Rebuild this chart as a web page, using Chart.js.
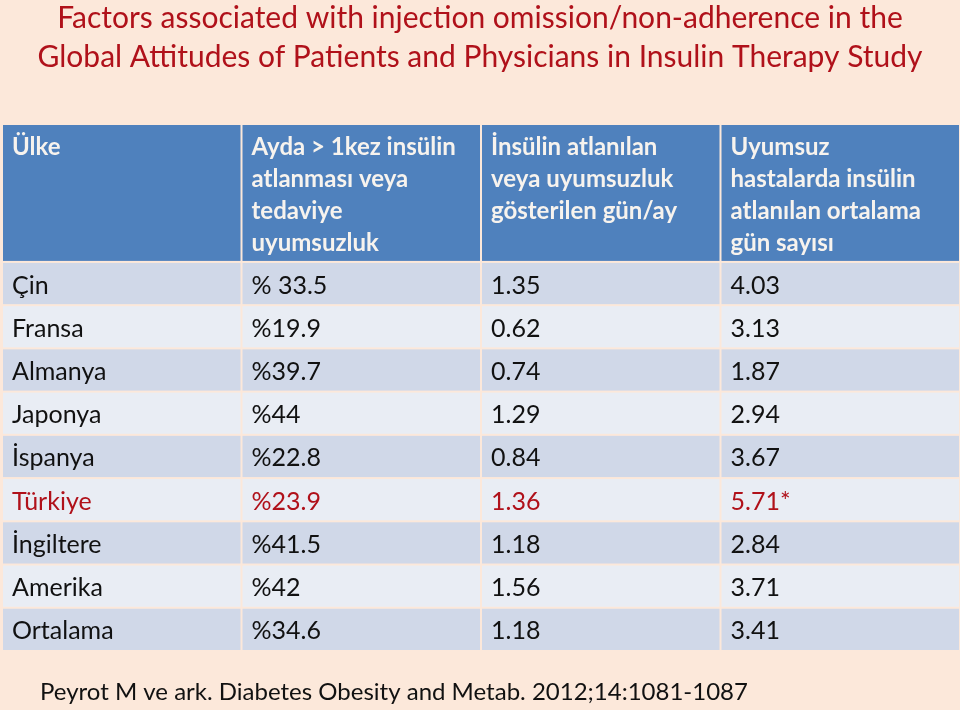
<!DOCTYPE html>
<html>
<head>
<meta charset="utf-8">
<title>Injection omission table</title>
<script src="https://cdn.jsdelivr.net/npm/chart.js@4.4.1/dist/chart.umd.min.js"></script>
<style>
    html, body { margin: 0; padding: 0; background: #fce8da; }
    #wrap { width: 960px; height: 710px; position: relative; }
</style>
</head>
<body>
<div id="wrap"><canvas id="omissionTable"></canvas></div>
<script>
// --- data ---
const titleLines = [
    'Factors associated with injection omission/non-adherence in the',
    'Global Attitudes of Patients and Physicians in Insulin Therapy Study'
];
const headers = [
    ['Ülke'],
    ['Ayda > 1kez insülin', 'atlanması veya', 'tedaviye', 'uyumsuzluk'],
    ['İnsülin atlanılan', 'veya uyumsuzluk', 'gösterilen gün/ay'],
    ['Uyumsuz', 'hastalarda insülin', 'atlanılan ortalama', 'gün sayısı']
];
const countries = ['Çin', 'Fransa', 'Almanya', 'Japonya', 'İspanya', 'Türkiye', 'İngiltere', 'Amerika', 'Ortalama'];
const omissionRate = ['% 33.5', '%19.9', '%39.7', '%44', '%22.8', '%23.9', '%41.5', '%42', '%34.6'];
const omissionDaysPerMonth = [1.35, 0.62, 0.74, 1.29, 0.84, 1.36, 1.18, 1.56, 1.18];
const avgMissedDays = [4.03, 3.13, 1.87, 2.94, 3.67, 5.71, 2.84, 3.71, 3.41];
const avgMissedNote = ['', '', '', '', '', '*', '', '', ''];
const highlightCountry = 'Türkiye';
const sourceNote = 'Peyrot M ve ark. Diabetes Obesity and Metab. 2012;14:1081-1087';

// --- style ---
const FONT = 'Lato, "Open Sans", sans-serif';
const PAGE_BG = '#fce8da';
const HEADER_BG = '#4f81bd';
const ROW_DARK = '#d0d8e8';
const ROW_LIGHT = '#e9edf4';
const RED = '#b0111a';
const HEADER_UNITS = 3.19;   // header row is ~3.2 body rows tall

/**
 * Table plugin: cells and texts placed through the x / y scales
 */
const tablePlugin = {
    id: 'tableCells',
    beforeDraw(chart) {
        const { ctx, width, height } = chart;
        ctx.save();
        ctx.fillStyle = PAGE_BG;
        ctx.fillRect(0, 0, width, height);
        ctx.restore();
    },
    afterDraw(chart) {
        const { ctx, scales: { x, y } } = chart;
        const cols = headers.length;
        const cellRect = (c, r0, r1, fill) => {
            const left = x.getPixelForValue(c) + 1;
            const right = x.getPixelForValue(c + 1) - 1;
            const top = y.getPixelForValue(r0) + 1;
            const bottom = y.getPixelForValue(r1) - 1;
            ctx.fillStyle = fill;
            ctx.fillRect(left, top, right - left, bottom - top);
            return { left, top };
        };

        ctx.save();
        ctx.textAlign = 'left';
        ctx.textBaseline = 'alphabetic';

        // Header row
        for (let c = 0; c < cols; c++) {
            const { left, top } = cellRect(c, 0, HEADER_UNITS, HEADER_BG);
            ctx.fillStyle = '#f7f3ee';
            ctx.font = 'bold 24px ' + FONT;
            headers[c].forEach((line, k) => {
                ctx.fillText(line, left + 9, top + 30 + k * 32);
            });
        }

        // Body rows
        countries.forEach((country, r) => {
            const r0 = HEADER_UNITS + r;
            const fill = r % 2 === 0 ? ROW_DARK : ROW_LIGHT;
            const values = [
                country,
                omissionRate[r],
                omissionDaysPerMonth[r].toFixed(2),
                avgMissedDays[r].toFixed(2) + avgMissedNote[r]
            ];
            values.forEach((txt, c) => {
                const { left } = cellRect(c, r0, r0 + 1, fill);
                const mid = y.getPixelForValue(r0 + 0.5);
                ctx.fillStyle = country === highlightCountry ? RED : '#111111';
                ctx.font = '25px ' + FONT;
                ctx.fillText(txt, left + 9, mid + 10);
            });
        });

        // Title
        ctx.textAlign = 'center';
        ctx.fillStyle = RED;
        ctx.font = '30px ' + FONT;
        titleLines.forEach((line, k) => {
            ctx.fillText(line, chart.width / 2, 28 + k * 39);
        });

        // Source note
        ctx.textAlign = 'left';
        ctx.fillStyle = '#111111';
        ctx.font = '24px ' + FONT;
        ctx.fillText(sourceNote, 40, 700);
        ctx.restore();
    }
};

document.addEventListener('DOMContentLoaded', () => {
    new Chart(document.getElementById('omissionTable'), {
        type: 'bar',
        data: { labels: [], datasets: [] },
        options: {
            responsive: true,
            maintainAspectRatio: false,
            animation: false,
            layout: { padding: { top: 124, bottom: 59, left: 2, right: 0 } },
            plugins: {
                legend: { display: false },
                title: { display: false },
                tooltip: { enabled: false }
            },
            scales: {
                x: { type: 'linear', min: 0, max: headers.length, offset: false, display: false },
                y: { type: 'linear', min: 0, max: HEADER_UNITS + countries.length, offset: false, reverse: true, display: false }
            }
        },
        plugins: [tablePlugin]
    });
});
</script>
</body>
</html>
